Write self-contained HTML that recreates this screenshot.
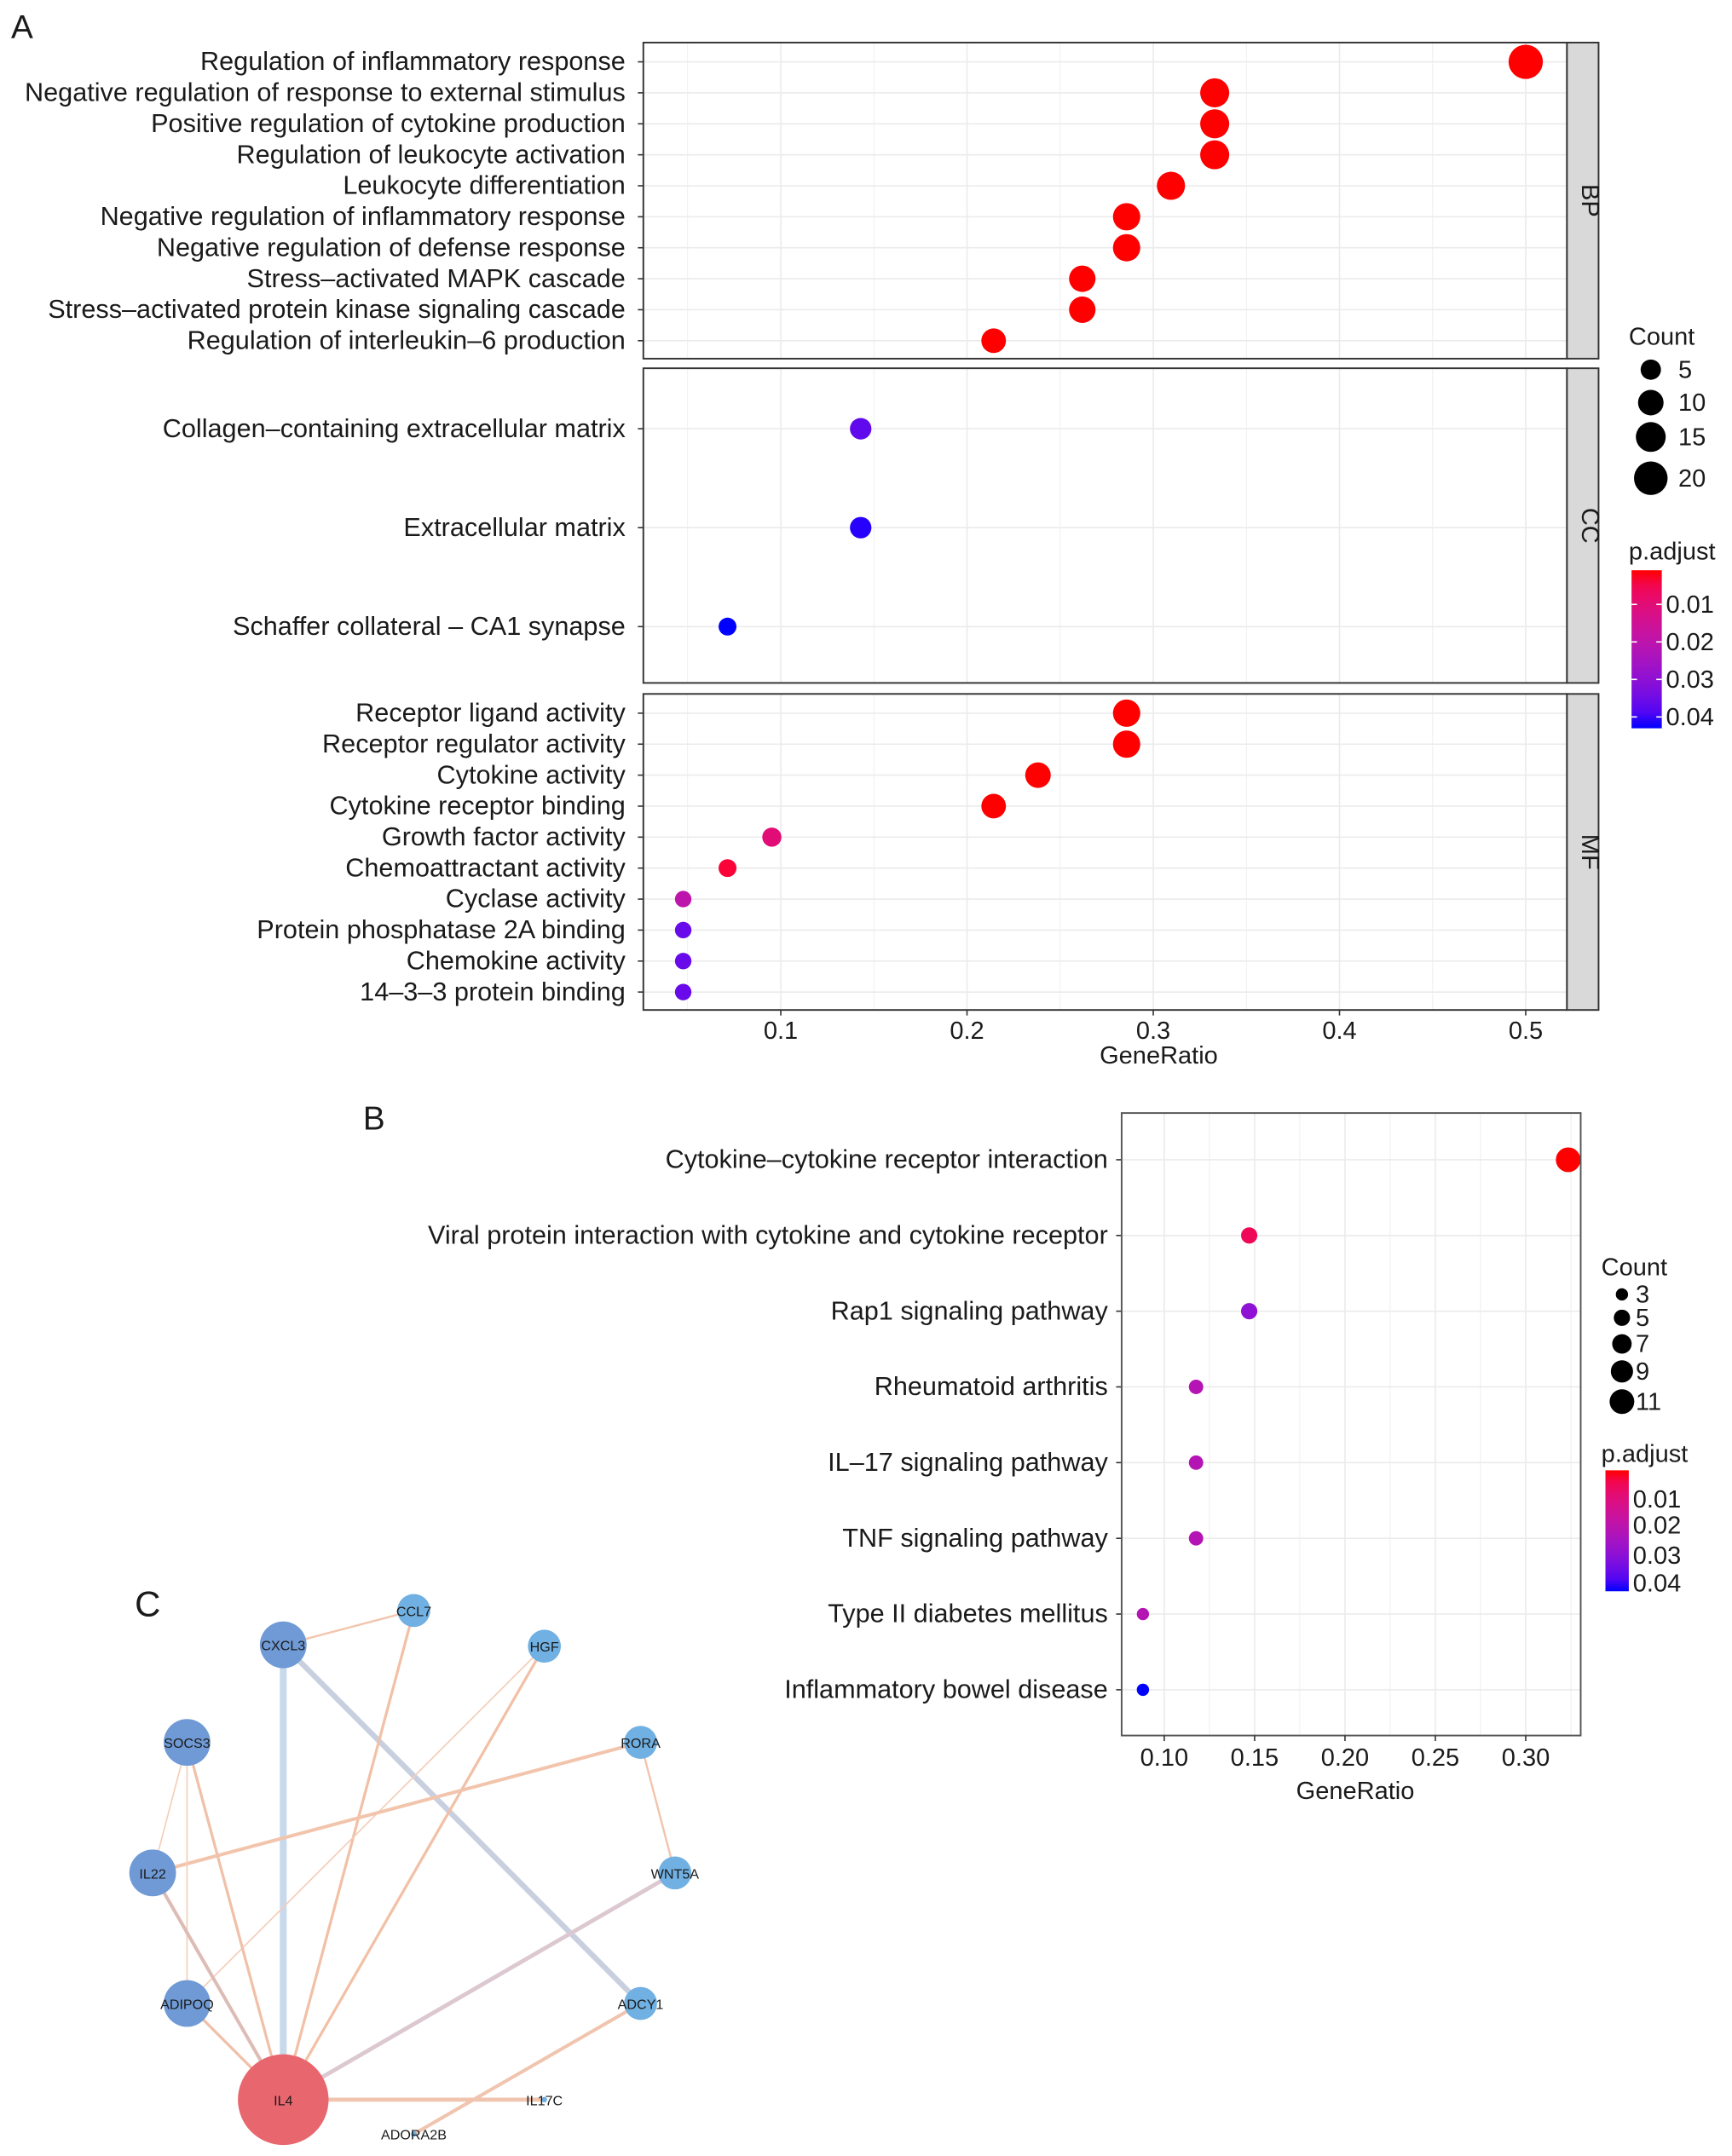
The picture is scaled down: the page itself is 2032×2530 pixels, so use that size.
<!DOCTYPE html>
<html><head><meta charset="utf-8"><style>
html,body{margin:0;padding:0;background:#fff}
svg{display:block}
text{font-family:"Liberation Sans",sans-serif;fill:#1a1a1a}
</style></head><body>
<svg id="fig" width="2032" height="2530" viewBox="0 0 1260 1569" xmlns="http://www.w3.org/2000/svg">
<text x="8" y="28" font-size="24">A</text>
<text x="264" y="822" font-size="24">B</text>
<text x="98" y="1176" font-size="26">C</text>
<g id="gA"></g>
<g id="gB"></g>
<g id="gC"></g>
</svg>
<script>
// ---------- Panel A data ----------
const bpTerms=["Regulation of inflammatory response","Negative regulation of response to external stimulus","Positive regulation of cytokine production","Regulation of leukocyte activation","Leukocyte differentiation","Negative regulation of inflammatory response","Negative regulation of defense response","Stress\u2013activated MAPK cascade","Stress\u2013activated protein kinase signaling cascade","Regulation of interleukin\u20136 production"];
const bpRatio=[0.5,0.333,0.333,0.333,0.3095,0.2857,0.2857,0.2619,0.2619,0.2143];
const bpCount=[21,14,14,14,13,12,12,11,11,9];
const bpP=[0.001,0.001,0.001,0.001,0.001,0.001,0.001,0.001,0.001,0.001];
const ccTerms=["Collagen\u2013containing extracellular matrix","Extracellular matrix","Schaffer collateral \u2013 CA1 synapse"];
const ccRatio=[0.1429,0.1429,0.0714];
const ccCount=[6,6,3];
const ccP=[0.037,0.042,0.043];
const mfTerms=["Receptor ligand activity","Receptor regulator activity","Cytokine activity","Cytokine receptor binding","Growth factor activity","Chemoattractant activity","Cyclase activity","Protein phosphatase 2A binding","Chemokine activity","14\u20133\u20133 protein binding"];
const mfRatio=[0.2857,0.2857,0.2381,0.2143,0.0952,0.0714,0.0476,0.0476,0.0476,0.0476];
const mfCount=[12,12,10,9,4,3,2,2,2,2];
const mfP=[0.001,0.001,0.001,0.001,0.01,0.003,0.02,0.036,0.036,0.036];
const aTicks=[0.1,0.2,0.3,0.4,0.5];
const aCountLegend=[5,10,15,20];
const aPLegend=[0.01,0.02,0.03,0.04];
// ---------- Panel B data ----------
const bTerms=["Cytokine\u2013cytokine receptor interaction","Viral protein interaction with cytokine and cytokine receptor","Rap1 signaling pathway","Rheumatoid arthritis","IL\u201317 signaling pathway","TNF signaling pathway","Type II diabetes mellitus","Inflammatory bowel disease"];
const bRatio=[0.3235,0.147,0.147,0.1176,0.1176,0.1176,0.0882,0.0882];
const bCount=[11,5,5,4,4,4,3,3];
const bP=[0.001,0.006,0.03,0.022,0.022,0.022,0.022,0.043];
const bTicks=[0.10,0.15,0.20,0.25,0.30];
const bCountLegend=[3,5,7,9,11];
const bPLegend=[0.01,0.02,0.03,0.04];
// ---------- Panel C data ----------
const nodeNames=["CXCL3","CCL7","HGF","RORA","WNT5A","ADCY1","IL17C","ADORA2B","IL4","ADIPOQ","IL22","SOCS3"];
const nodeSize=[17,12,12,12,12,12,2,2,33,17,17,17];
const edges=[["CXCL3","CCL7",1.5,"#f2c6ae"],["CXCL3","IL4",5,"#c9d9ec"],["CXCL3","ADCY1",4,"#c8d0e0"],["CCL7","IL4",2,"#f2c0a6"],["HGF","IL4",2,"#f2c0a6"],["HGF","ADIPOQ",1,"#f4cdb8"],["RORA","IL22",2.5,"#f2c4ac"],["RORA","WNT5A",1.5,"#f2c4ac"],["WNT5A","IL4",3,"#dcc8d0"],["ADCY1","ADORA2B",2.5,"#f0c4ae"],["IL4","IL17C",3,"#f0c4ae"],["SOCS3","IL22",1,"#f4cdb8"],["SOCS3","ADIPOQ",1,"#f4cdb8"],["SOCS3","IL4",2,"#f0c0a8"],["IL22","IL4",2.5,"#dcbcb4"],["ADIPOQ","IL4",2,"#f0c0a8"]];

const NS="http://www.w3.org/2000/svg";
function mk(parent,tag,attrs,name){const e=document.createElementNS(NS,tag);for(const k in attrs)e.setAttribute(k,attrs[k]);


parent.appendChild(e);return e;}
function txt(parent,x,y,s,size,anchor,name,extra){const t=mk(parent,"text",Object.assign({x:x,y:y,"font-size":size,"text-anchor":anchor||"start"},extra||{}),name);t.textContent=s;return t;}
function pColor(p,pmax){let f=Math.max(0,Math.min(1,(p-0.001)/(pmax-0.001)));const r=Math.round(255*Math.sqrt(1-f)),b=Math.round(255*Math.sqrt(f)),g=Math.round(20*Math.sin(Math.PI*f));return `rgb(${r},${g},${b})`;}

// ---------- Panel A ----------
const gA=document.getElementById("gA");
const ax=v=>432.5+1355*v;
const aR=c=>Math.sqrt(23.4+6.3*c);
const aL=468,aRt=1140;
const FS=19;
const panels=[{name:"BP",t:bpTerms,r:bpRatio,c:bpCount,p:bpP,y0:31,y1:261,ys:45,dy:22.55},
{name:"CC",t:ccTerms,r:ccRatio,c:ccCount,p:ccP,y0:268,y1:497,ys:312,dy:72},
{name:"MF",t:mfTerms,r:mfRatio,c:mfCount,p:mfP,y0:505,y1:735,ys:519,dy:22.55}];
panels.forEach(P=>{
 mk(gA,"rect",{x:aL,y:P.y0,width:aRt-aL,height:P.y1-P.y0,fill:"#fff"},"panel-bg-"+P.name.toLowerCase());
 for(let v=0.05;v<0.53;v+=0.05){const x=ax(v);if(x<aL||x>aRt)continue;
  mk(gA,"line",{x1:x,x2:x,y1:P.y0,y2:P.y1,stroke:"#ebebeb","stroke-width":Math.abs(v*10-Math.round(v*10))<1e-6?1:0.5},"grid-x");}
 P.t.forEach((t,i)=>{const y=P.ys+i*P.dy;
  mk(gA,"line",{x1:aL,x2:aRt,y1:y,y2:y,stroke:"#ebebeb","stroke-width":1},"grid-y");
  mk(gA,"line",{x1:aL-4,x2:aL,y1:y,y2:y,stroke:"#333","stroke-width":1},"y-tick");
  txt(gA,455,y+6,t,FS,"end","term-label-"+P.name.toLowerCase());});
 P.t.forEach((t,i)=>{const y=P.ys+i*P.dy;
  mk(gA,"circle",{cx:ax(P.r[i]),cy:y,r:aR(P.c[i]),fill:pColor(P.p[i],0.043)},"dot-"+P.name.toLowerCase());});
 mk(gA,"rect",{x:aL,y:P.y0,width:aRt-aL,height:P.y1-P.y0,fill:"none",stroke:"#333","stroke-width":1.2},"panel-border-"+P.name.toLowerCase());
 mk(gA,"rect",{x:aRt,y:P.y0,width:23,height:P.y1-P.y0,fill:"#d9d9d9",stroke:"#333","stroke-width":1.2},"strip-"+P.name.toLowerCase());
 const cy=(P.y0+P.y1)/2;
 txt(gA,1145,cy,P.name,18,"middle","strip-label-"+P.name.toLowerCase(),{transform:`rotate(90 1151 ${cy})`,x:1151});
});
aTicks.forEach(v=>{const x=ax(v);
 mk(gA,"line",{x1:x,x2:x,y1:735,y2:739,stroke:"#333"},"x-tick");
 txt(gA,x,756,String(v),18,"middle","x-tick-label");});
txt(gA,843,774,"GeneRatio",18,"middle","x-axis-title");
txt(gA,1185,251,"Count",18,"start","count-legend-title");
const aLy=[269,293,318,348];
aCountLegend.forEach((c,i)=>{mk(gA,"circle",{cx:1201,cy:aLy[i],r:aR(c),fill:"#000"},"count-legend-dot");
 txt(gA,1221,aLy[i]+6,String(c),18,"start","count-legend-label");});
txt(gA,1185,407,"p.adjust",18,"start","padjust-legend-title");
const defs=mk(document.getElementById("fig"),"defs",{},"defs");
const lg=mk(defs,"linearGradient",{id:"pg",x1:0,y1:0,x2:0,y2:1},"gradient");
for(let k=0;k<=10;k++)mk(lg,"stop",{offset:k/10,"stop-color":pColor(0.001+k/10*0.042,0.043)},"gradient-stop");
mk(gA,"rect",{x:1187,y:415,width:22,height:115,fill:"url(#pg)"},"padjust-colorbar");
const aPy=p=>415+(p-0.0009)/0.01*27.3;
aPLegend.forEach(p=>{const y=aPy(p);
 mk(gA,"line",{x1:1187,x2:1191,y1:y,y2:y,stroke:"#fff"},"colorbar-tick");
 mk(gA,"line",{x1:1205,x2:1209,y1:y,y2:y,stroke:"#fff"},"colorbar-tick");
 txt(gA,1212,y+6,String(p),18,"start","padjust-legend-label");});

// ---------- Panel B ----------
const gB=document.getElementById("gB");
const bx=v=>715.5+1315*v;
const bR=c=>Math.sqrt(Math.max(4,-2.9+7.6*c));
const bL=816,bRt=1150,bT=810,bBt=1263;
mk(gB,"rect",{x:bL,y:bT,width:bRt-bL,height:bBt-bT,fill:"#fff"},"panel-b-bg");
for(let v=0.075;v<0.34;v+=0.025){const x=bx(v);if(x<bL||x>bRt)continue;
 mk(gB,"line",{x1:x,x2:x,y1:bT,y2:bBt,stroke:"#ebebeb","stroke-width":Math.round(v*1000)%50===0?1:0.5},"grid-x");}
bTerms.forEach((t,i)=>{const y=844+i*55.1;
 mk(gB,"line",{x1:bL,x2:bRt,y1:y,y2:y,stroke:"#ebebeb"},"grid-y");
 mk(gB,"line",{x1:bL-4,x2:bL,y1:y,y2:y,stroke:"#333"},"y-tick");
 txt(gB,806,y+6,t,FS,"end","pathway-label");});
bTerms.forEach((t,i)=>{const y=844+i*55.1;
 mk(gB,"circle",{cx:bx(bRatio[i]),cy:y,r:bR(bCount[i]),fill:pColor(bP[i],0.043)},"dot-pathway");});
mk(gB,"rect",{x:bL,y:bT,width:bRt-bL,height:bBt-bT,fill:"none",stroke:"#555","stroke-width":1.2},"panel-b-border");
bTicks.forEach(v=>{const x=bx(v);
 mk(gB,"line",{x1:x,x2:x,y1:bBt,y2:bBt+4,stroke:"#333"},"x-tick");
 txt(gB,x,1285,v.toFixed(2),18,"middle","x-tick-label");});
txt(gB,986,1309,"GeneRatio",18,"middle","x-axis-title");
txt(gB,1165,928,"Count",18,"start","count-legend-title");
const bLy=[942,959,978,998,1020];
bCountLegend.forEach((c,i)=>{mk(gB,"circle",{cx:1180,cy:bLy[i],r:bR(c),fill:"#000"},"count-legend-dot");
 txt(gB,1190,bLy[i]+6,String(c),18,"start","count-legend-label");});
txt(gB,1165,1064,"p.adjust",18,"start","padjust-legend-title");
mk(gB,"rect",{x:1168,y:1070,width:17,height:88,fill:"url(#pg)"},"padjust-colorbar");
const bPy=[1091,1110,1132,1152];
bPLegend.forEach((p,i)=>{txt(gB,1188,bPy[i]+6,String(p),18,"start","padjust-legend-label");});

// ---------- Panel C ----------
const gC=document.getElementById("gC");
const pos={CXCL3:[206,1197],CCL7:[301,1172],HGF:[396,1198],RORA:[466,1268],WNT5A:[491,1363],ADCY1:[466,1458],IL17C:[396,1528],ADORA2B:[301,1553],IL4:[206,1528],ADIPOQ:[136,1458],IL22:[111,1363],SOCS3:[136,1268]};
const dark=["CXCL3","SOCS3","IL22","ADIPOQ"];
edges.forEach(e=>{const a=pos[e[0]],b=pos[e[1]];
 mk(gC,"line",{x1:a[0],y1:a[1],x2:b[0],y2:b[1],stroke:e[3],"stroke-width":e[2]},"edge-"+e[0].toLowerCase()+"-"+e[1].toLowerCase());});
nodeNames.forEach((n,i)=>{const p=pos[n];
 const fill=n==="IL4"?"#e8676f":(dark.includes(n)?"#6f9ad6":"#70b0e2");
 mk(gC,"circle",{cx:p[0],cy:p[1],r:nodeSize[i],fill:fill},"node-"+n.toLowerCase());
 txt(gC,p[0],p[1]+4,n,10,"middle","node-label-"+n.toLowerCase(),{fill:"#333"});});
</script>
</body></html>
